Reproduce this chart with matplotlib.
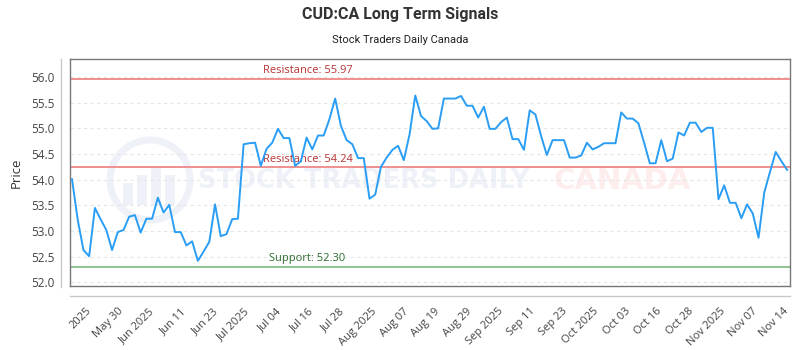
import numpy as np
import matplotlib
matplotlib.use("Agg")
import matplotlib.pyplot as plt
from matplotlib.lines import Line2D
from matplotlib.patches import Circle, Rectangle
import matplotlib.transforms as mtransforms

# ---- data ----
prices = [
    54.01, 53.22, 52.63, 52.51, 53.45, 53.23, 53.02, 52.63, 52.98, 53.02,
    53.28, 53.31, 52.97, 53.24, 53.24, 53.65, 53.36, 53.51, 52.98, 52.98,
    52.72, 52.80, 52.42, 52.60, 52.79, 53.52, 52.90, 52.94, 53.23, 53.24,
    54.69, 54.71, 54.72, 54.27, 54.60, 54.72, 54.99, 54.81, 54.81, 54.27,
    54.36, 54.82, 54.59, 54.86, 54.86, 55.18, 55.58, 55.05, 54.77, 54.69,
    54.42, 54.42, 53.63, 53.71, 54.25, 54.43, 54.58, 54.66, 54.38, 54.88,
    55.64, 55.24, 55.14, 54.99, 55.00, 55.58, 55.58, 55.58, 55.63, 55.44,
    55.44, 55.21, 55.42, 54.99, 54.99, 55.12, 55.21, 54.79, 54.79, 54.58,
    55.35, 55.27, 54.85, 54.48, 54.77, 54.77, 54.77, 54.43, 54.43, 54.47,
    54.72, 54.59, 54.64, 54.71, 54.71, 54.71, 55.31, 55.19, 55.19, 55.10,
    54.72, 54.32, 54.32, 54.77, 54.36, 54.41, 54.92, 54.86, 55.11, 55.11,
    54.93, 55.01, 55.01, 53.62, 53.89, 53.55, 53.55, 53.25, 53.52, 53.34,
    52.87, 53.75, 54.15, 54.54, 54.36, 54.19,
]
tick_labels = ["2025", "May 30", "Jun 2025", "Jun 11", "Jun 23", "Jul 2025",
               "Jul 04", "Jul 16", "Jul 28", "Aug 2025", "Aug 07", "Aug 19",
               "Aug 29", "Sep 2025", "Sep 11", "Sep 23", "Oct 2025", "Oct 03",
               "Oct 16", "Oct 28", "Nov 2025", "Nov 07", "Nov 14"]
resistance_levels = [55.97, 54.24]
support_levels = [52.30]
y_ticks = [52.0, 52.5, 53.0, 53.5, 54.0, 54.5, 55.0, 55.5, 56.0]

title = "CUD:CA Long Term Signals"
subtitle = "Stock Traders Daily Canada"

# ---- figure ----
W, H = 800, 350
fig = plt.figure(figsize=(W / 100, H / 100), dpi=100)
fig.patch.set_facecolor("white")

L, R, T, B = 70, 790, 59, 286
ax = fig.add_axes([L / W, 1 - B / H, (R - L) / W, (B - T) / H])
ax.patch.set_alpha(0)
ax.set_zorder(2)

x = np.arange(len(prices))
ax.set_xlim(-0.35, len(prices) - 0.5)
ax.set_ylim(51.93, 56.35)

# grid
ax.set_yticks(y_ticks)
ax.set_yticklabels([f"{v:.1f}" for v in y_ticks])
ax.grid(axis="y", color="#e6e6e6", linestyle=(0, (3, 3)), linewidth=0.8)
ax.set_axisbelow(True)

# watermark (behind the axes)
def fx(px):
    return px / W

def fy(py):
    return 1 - py / H

fig.text(fx(364), fy(181), "STOCK TRADERS DAILY", fontsize=18.5, fontweight="bold",
         color="#eef1f7", ha="center", va="center", family="DejaVu Sans",
         zorder=0.5)
fig.text(fx(622), fy(181), "CANADA", fontsize=21, fontweight="bold",
         color="#fdeded", ha="center", va="center", family="DejaVu Sans",
         zorder=0.5)
circ = Circle((150, H - 180), 40, transform=None, facecolor="none",
              edgecolor="#eef1f7", linewidth=5, zorder=0.5)
fig.patches.append(circ)
for bx, bh in [(128, 22), (142, 30), (156, 38), (170, 30)]:
    fig.patches.append(Rectangle((bx - 5, H - 205), 10, bh, transform=None,
                                 facecolor="#eef1f7", edgecolor="none", zorder=0.5))

# levels
tr = mtransforms.blended_transform_factory(ax.transAxes, ax.transData)
for lv in resistance_levels:
    ax.axhline(lv, color="#ef8f8f", linewidth=1.4, zorder=2)
    ax.text(0.33, lv + 0.05, f"Resistance: {lv:.2f}", transform=tr,
            color="#b83232", fontsize=8, ha="center", va="bottom",
            family="Open Sans", zorder=3)
for lv in support_levels:
    ax.axhline(lv, color="#8fc48f", linewidth=1.4, zorder=2)
    ax.text(0.33, lv + 0.05, f"Support: {lv:.2f}", transform=tr,
            color="#2e6b2e", fontsize=8, ha="center", va="bottom",
            family="Open Sans", zorder=3)

# price line
ax.plot(x, prices, color="#2a9df4", linewidth=1.4, zorder=4)

# x ticks
ticks = np.linspace(3.1, len(prices) - 1, len(tick_labels))
ax.set_xticks(ticks)
ax.set_xticklabels(tick_labels, rotation=45, ha="right", va="center",
                   rotation_mode="anchor", family="Open Sans", fontsize=8,
                   color="#444444")
ax.tick_params(axis="x", length=0, pad=17)
ax.tick_params(axis="y", length=0, pad=11, labelsize=8.5, labelcolor="#444444")
for lab in ax.get_yticklabels():
    lab.set_family("Open Sans")

for s in ax.spines.values():
    s.set_color("#777777")
    s.set_linewidth(1.0)

# offset axis lines
fig.add_artist(Line2D([fx(61), fx(61)], [fy(59), fy(287)], color="#c8c8c8",
                      linewidth=1.0))
fig.add_artist(Line2D([fx(70), fx(790)], [fy(296), fy(296)], color="#c8c8c8",
                      linewidth=1.0))

ax.set_ylabel("Price", fontsize=9.5, color="#333333", family="Open Sans")
ax.yaxis.set_label_coords(-0.066, 0.5)

fig.text(0.5, fy(15), title, ha="center", va="center", fontsize=11.5,
         fontweight="bold", color="#333333", family="Roboto")
fig.text(0.5, fy(40), subtitle, ha="center", va="center", fontsize=8,
         color="#222222", family="Roboto")

fig.savefig("out.png", dpi=100)
